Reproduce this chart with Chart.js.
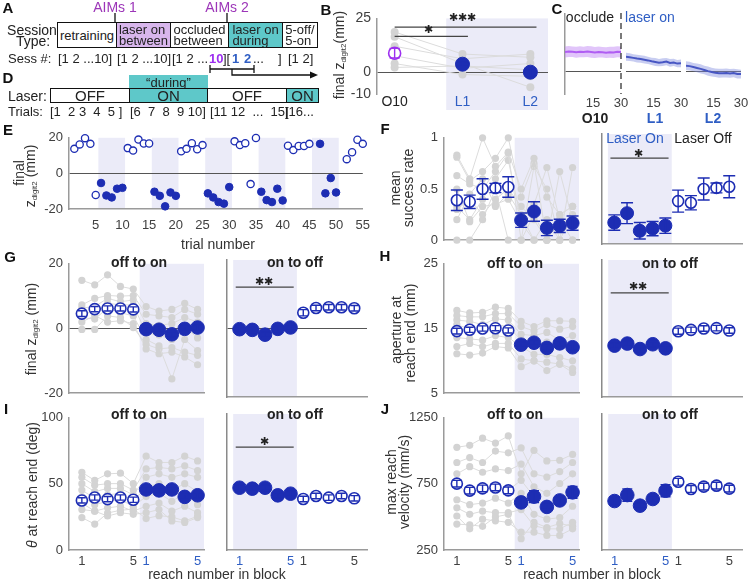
<!DOCTYPE html>
<html>
<head>
<meta charset="utf-8">
<script src="https://cdn.jsdelivr.net/npm/chart.js@4.4.1/dist/chart.umd.min.js"></script>
<style>
  body { margin: 0; background: #fff; }
  #fig { position: relative; width: 751px; height: 583px; overflow: hidden;
         font-family: 'Liberation Sans', Arial, Helvetica, sans-serif; color: #222; }
  #fig canvas { position: absolute; }
  .t { position: absolute; white-space: pre; transform: translate(-50%, -50%); line-height: 1; z-index: 2; }
  .l { position: absolute; white-space: pre; line-height: 1; z-index: 2; }
  .box { position: absolute; box-sizing: border-box; border: 1px solid #111; font-size: 13px; line-height: 11px;
         display: flex; flex-direction: column; justify-content: center; align-items: center; z-index: 2; }
  sub { font-size: 8px; vertical-align: -2px; }
</style>
</head>
<body>
<div id="fig">
  <!-- A: session schematic -->
  <svg style="position:absolute;left:0;top:0;z-index:1" width="751" height="583">
    <line x1="115" y1="13" x2="115" y2="22" stroke="#111" stroke-width="1.3"/>
    <line x1="227" y1="13" x2="227" y2="22" stroke="#111" stroke-width="1.3"/>
    <line x1="210" y1="69" x2="254" y2="69" stroke="#111" stroke-width="1.3"/>
    <line x1="210" y1="65" x2="210" y2="73" stroke="#111" stroke-width="1.3"/>
    <line x1="254" y1="65" x2="254" y2="73" stroke="#111" stroke-width="1.3"/>
    <polyline points="232,69 232,75 312,75" fill="none" stroke="#111" stroke-width="1.3"/>
    <polygon points="318,75 310,71.5 310,78.5" fill="#111"/>
  </svg>
</div>
<script>
const FONT = "'Liberation Sans', Arial, Helvetica, sans-serif";
const BLUE = '#1d2db3';
const TBLUE = '#2f5ec4';
const PURPLE = '#9d2ff0';
const GRAY = '#d3d3d3';
const BANDC = '#ebebf8';
const DARK = '#404040';

// E: one session, final z per trial
const eTrials = [1, 2, 3, 4, 5, 6, 7, 8, 9, 10, 11, 12, 13, 14, 15, 16, 17, 18, 19, 20,
  21, 22, 23, 24, 25, 26, 27, 28, 29, 30, 31, 32, 33, 34, 35, 36, 37, 38, 39, 40,
  41, 42, 43, 44, 45, 47, 48, 49, 50, 52, 53, 54, 55];
const eZ = [13.8, 16.3, 19.8, 16.6, -12.1, -5.4, -12.4, -13.5, -8.6, -8.1,
  14.2, 12.8, 19.0, 16.8, 16.8, -10.3, -12.6, -18.5, -10.7, -12.6,
  12.4, 13.8, 17.0, 13.6, 15.9, -11.2, -13.5, -16.1, -17.0, -7.7,
  18.0, 15.9, 17.0, -6.0, 19.9, -10.3, -15.0, -16.1, -8.6, -15.2,
  15.6, 13.1, 15.4, 15.4, 16.6, 16.6, -11.2, -2.6, -10.7, 8.0, 11.9, 18.9, 16.6];
const eLaser = [0, 0, 0, 0, 0, 1, 1, 1, 1, 1, 0, 0, 0, 0, 0, 1, 1, 1, 1, 1,
  0, 0, 0, 0, 0, 1, 1, 1, 1, 1, 0, 0, 0, 0, 0, 1, 1, 1, 1, 1,
  0, 0, 0, 0, 0, 1, 1, 1, 1, 0, 0, 0, 0];
const eBlocks = [[5.5, 10.5], [15.5, 20.5], [25.5, 30.5], [35.5, 40.5], [45.5, 50.5]];
const eXTicks = [5, 10, 15, 20, 25, 30, 35, 40, 45, 50, 55];
const eYTicks = [-20, 0, 20];

// B: per-animal final z, O10 / L1 / L2
const bSessions = ['O10', 'L1', 'L2'];
const bAnimals = [
  [18.7, 8.5, 7.0],
  [16.5, 4.1, -6.9],
  [12.1, 6.3, 8.5],
  [7.7, 1.9, 4.1],
  [4.1, -1.0, -1.8],
  [2.3, 3.0, 1.2]
];
const bMean = [8.9, 3.8, 0.1];
const bErr = [2.2, 1.0, 1.6];
const bYTicks = [-10, 0, 25];

// C: within-session traces
const cX = [0, 2, 4, 6, 8, 10, 12, 14, 16, 18, 20, 22, 24, 26, 28, 30];
const cO10 = [8.4, 8.6, 8.5, 8.3, 8.5, 8.4, 8.6, 8.4, 8.2, 8.4, 8.3, 8.1, 8.3, 8.2, 8.5, 8.4];
const cO10Sem = [2.4, 2.4, 2.3, 2.4, 2.4, 2.3, 2.4, 2.5, 2.4, 2.4, 2.3, 2.4, 2.4, 2.5, 2.4, 2.4];
const cL1 = [6.3, 6.1, 5.8, 5.5, 5.3, 5.0, 4.7, 4.3, 4.0, 3.7, 3.9, 4.2, 3.6, 3.8, 3.3, 3.4];
const cL1Sem = [1.7, 1.7, 1.6, 1.7, 1.6, 1.7, 1.6, 1.6, 1.7, 1.6, 1.7, 1.6, 1.7, 1.6, 1.6, 1.7];
const cL2 = [2.4, 2.2, 1.8, 1.4, 1.0, 0.5, 0.0, -0.4, -0.7, -0.9, -0.9, -0.8, -1.0, -0.8, -1.2, -1.3];
const cL2Sem = [1.9, 1.9, 1.8, 1.9, 2.0, 1.9, 2.0, 1.9, 1.9, 2.0, 1.9, 2.0, 1.9, 1.9, 2.0, 1.9];
const cXTicks = [15, 30];

// F-J: reach number in block
const reachA = [1, 2, 3, 4, 5];
const reachB = [6, 7, 8, 9, 10];
const reachAll = [1, 2, 3, 4, 5, 6, 7, 8, 9, 10];
const blockTicks = [1, 5, 6, 10];
const blockLabels = ['1', '5', '1', '5'];

const fOff = [0.39, 0.375, 0.50, 0.51, 0.52];
const fOffErr = [0.10, 0.065, 0.10, 0.045, 0.10];
const fOn = [0.195, 0.28, 0.12, 0.14, 0.167];
const fOnErr = [0.07, 0.095, 0.075, 0.065, 0.07];
const fAnimals = [
  [0.83, 0.60, 1.00, 0.72, 0.86, 0.50, 0.80, 0.42, 0.25, 0.33],
  [0.81, 0.58, 0.67, 0.80, 1.00, 0.42, 0.75, 0.00, 0.67, 0.20],
  [0.63, 0.55, 0.50, 0.67, 0.85, 0.00, 0.72, 0.50, 0.00, 0.71],
  [0.33, 0.20, 0.40, 0.60, 0.78, 0.20, 0.35, 0.71, 0.20, 0.00],
  [0.30, 0.40, 0.25, 0.40, 0.50, 0.33, 0.20, 0.00, 0.25, 0.33],
  [0.50, 0.18, 0.33, 0.35, 0.40, 0.17, 0.00, 0.20, 0.00, 0.25],
  [0.00, 0.00, 0.20, 0.50, 0.00, 0.00, 0.25, 0.00, 0.20, 0.17],
  [0.20, 0.45, 0.60, 0.33, 0.45, 0.25, 0.00, 0.00, 0.00, 0.00]
];
const fYTicks = [0, 0.5, 1];
const fYLabels = ['0', '0.5', '1'];

const gOff = [4.6, 6.0, 6.2, 6.2, 5.9];
const gOffErr = [0.9, 0.8, 0.8, 0.8, 0.8];
const gOn = [-0.2, -0.4, -1.8, -0.1, 0.3];
const gOnErr = [0.8, 0.8, 0.8, 0.8, 0.8];
const gAnimals = [
  [14.9, 13.5, 16.6, 13.0, 12.2, 6.8, 5.4, 5.9, 7.8, 5.9],
  [7.3, 9.3, 10.2, 10.0, 10.2, 4.4, 3.9, 3.4, 5.9, 4.4],
  [6.3, 6.8, 9.3, 8.3, 8.8, 1.5, 1.0, 1.5, 3.4, 2.0],
  [4.9, 4.9, 7.8, 7.3, 7.3, -1.5, -2.0, -3.4, 0.5, -2.9],
  [3.4, 2.9, 6.3, 4.9, 3.9, -3.4, -5.4, -15.6, -3.4, -6.8],
  [-0.3, -0.3, 3.9, 3.4, 0.3, -4.9, -6.3, -5.9, -7.3, -8.3],
  [2.0, 4.0, 2.0, 2.4, 1.5, -6.3, -7.8, -7.3, -8.8, -11.2]
];
const gYTicks = [-20, 0, 20];

const hOff = [14.6, 14.8, 15.0, 15.05, 14.7];
const hOffErr = [0.45, 0.4, 0.4, 0.4, 0.4];
const hOn = [12.5, 12.8, 12.0, 12.7, 12.1];
const hOnErr = [0.4, 0.4, 0.4, 0.4, 0.4];
const hAnimals = [
  [17.8, 17.4, 17.5, 18.3, 18.1, 16.1, 15.3, 16.2, 16.2, 16.1],
  [17.0, 16.8, 16.8, 17.3, 17.3, 15.3, 14.6, 15.6, 14.9, 15.3],
  [16.3, 16.1, 15.6, 16.5, 16.3, 14.1, 13.9, 14.4, 13.2, 13.9],
  [15.6, 14.9, 14.6, 15.6, 15.3, 13.2, 12.4, 12.9, 12.2, 12.0],
  [13.6, 13.4, 13.2, 13.9, 13.6, 12.2, 11.0, 11.0, 10.5, 10.0],
  [12.2, 12.7, 12.2, 12.7, 12.7, 10.3, 10.0, 9.8, 9.5, 8.8],
  [11.1, 10.9, 11.2, 12.2, 12.0, 9.1, 10.0, 8.5, 9.5, 8.2]
];
const hYTicks = [5, 15, 25];

const iOff = [37.5, 39.7, 38.5, 39.7, 38.0];
const iOffErr = [2, 2, 2, 2, 2];
const iOn = [45.8, 45.1, 45.8, 40.2, 41.4];
const iOnErr = [2, 2, 2, 2, 2];
const iAnimals = [
  [58.8, 52.6, 57.6, 58.1, 50.2, 71.0, 66.2, 66.2, 71.0, 67.4],
  [55.0, 49.0, 50.2, 50.2, 45.3, 61.3, 62.5, 61.3, 63.7, 60.0],
  [50.2, 44.1, 46.6, 46.6, 41.7, 55.0, 57.6, 55.0, 57.6, 55.0],
  [45.3, 39.2, 41.7, 42.9, 36.8, 47.8, 50.2, 45.3, 50.2, 44.1],
  [40.4, 34.3, 36.8, 38.0, 33.1, 40.4, 42.9, 36.8, 42.9, 34.3],
  [35.5, 29.4, 31.9, 33.1, 29.4, 33.1, 35.5, 29.4, 33.1, 28.2],
  [30.6, 29.4, 25.7, 28.2, 27.0, 28.2, 30.6, 22.0, 20.8, 24.5],
  [24.5, 19.6, 28.0, 30.0, 31.0, 23.8, 26.0, 25.0, 22.0, 25.5]
];
const iYTicks = [0, 50, 100];

const jOff = [752, 699, 716, 723, 701];
const jOffErr = [25, 25, 25, 25, 25];
const jOn = [610, 654, 576, 625, 686];
const jOnErr = [32, 45, 20, 25, 45];
const jAnimals = [
  [1027, 1042, 1096, 1059, 1113, 826, 1003, 924, 929, 973],
  [912, 949, 912, 998, 985, 1022, 826, 802, 843, 912],
  [826, 880, 838, 863, 851, 900, 728, 679, 753, 826],
  [740, 679, 716, 716, 703, 777, 654, 556, 630, 703],
  [630, 593, 605, 642, 605, 679, 520, 483, 495, 581],
  [569, 520, 544, 532, 532, 556, 434, 410, 410, 459],
  [507, 410, 483, 471, 459, 385, 385, 360, 360, 410],
  [446, 440, 429, 500, 520, 336, 460, 420, 450, 430]
];
const jYTicks = [250, 750, 1250];

const fig = document.getElementById('fig');
Chart.defaults.font.family = FONT;

// shaded laser-on blocks behind everything
const bandPlugin = {
  id: 'bands',
  beforeDraw(chart, args, opts) {
    if (!opts.spans) return;
    const ctx = chart.ctx, area = chart.chartArea, xs = chart.scales.x;
    const down = opts.down || 0;
    ctx.save();
    ctx.fillStyle = BANDC;
    opts.spans.forEach(function (s) {
      const x0 = xs.getPixelForValue(s[0]), x1 = xs.getPixelForValue(s[1]);
      ctx.fillRect(x0, area.top, x1 - x0, area.bottom - area.top + down);
    });
    ctx.restore();
  }
};

// error bars for datasets that carry an errs array
const errPlugin = {
  id: 'errbars',
  afterDatasetsDraw(chart) {
    const ctx = chart.ctx, ys = chart.scales.y;
    chart.data.datasets.forEach(function (ds, i) {
      if (!ds.errs) return;
      const els = chart.getDatasetMeta(i).data;
      ctx.save();
      ctx.strokeStyle = ds.borderColor;
      ctx.lineWidth = 1.4;
      ds.data.forEach(function (d, k) {
        const x = els[k].x;
        const y0 = ys.getPixelForValue(d.y - ds.errs[k]);
        const y1 = ys.getPixelForValue(d.y + ds.errs[k]);
        const w = ds.cap || 5;
        ctx.beginPath();
        ctx.moveTo(x, y0); ctx.lineTo(x, y1);
        ctx.moveTo(x - w, y0); ctx.lineTo(x + w, y0);
        ctx.moveTo(x - w, y1); ctx.lineTo(x + w, y1);
        ctx.stroke();
      });
      ctx.restore();
    });
  }
};

// dashed divider on the right edge of the occluded trace
const vlinePlugin = {
  id: 'vline',
  afterDraw(chart, args, opts) {
    if (opts.x == null) return;
    const ctx = chart.ctx, area = chart.chartArea;
    const x = chart.scales.x.getPixelForValue(opts.x);
    ctx.save();
    ctx.strokeStyle = '#222';
    ctx.lineWidth = 1.2;
    ctx.setLineDash([6, 4]);
    ctx.beginPath();
    ctx.moveTo(x, area.top - 1);
    ctx.lineTo(x, area.bottom);
    ctx.stroke();
    ctx.restore();
  }
};

function axis(a, dir, size) {
  return {
    type: 'linear',
    min: a.min,
    max: a.max,
    afterFit: function (s) { if (dir === 'x') s.height = size; else s.width = size; },
    afterBuildTicks: function (s) { s.ticks = (a.ticks || []).map(function (v) { return { value: v }; }); },
    ticks: {
      display: !!a.labels,
      autoSkip: false,
      maxRotation: 0,
      padding: a.pad == null ? 6 : a.pad,
      font: { family: FONT, size: a.size || 13 },
      color: function (c) { return a.colors ? a.colors[c.index] : DARK; },
      callback: function (v, i) { return a.labels ? a.labels[i] : ''; }
    },
    grid: {
      display: !!a.zero,
      drawTicks: false,
      lineWidth: 1,
      color: function (c) { return c.tick && c.tick.value === 0 ? '#555' : 'rgba(0,0,0,0)'; }
    },
    border: { display: a.border !== false, color: a.bcolor || '#9a9a9a', width: 1.5 }
  };
}

// area = [left, top, right, bottom] of the plot box on the page
function addChart(area, cfg) {
  const yw = cfg.yw == null ? 30 : cfg.yw;
  const xh = cfg.xh == null ? 10 : cfg.xh;
  const pt = 10, pr = 12;
  const c = document.createElement('canvas');
  c.width = area[2] - area[0] + yw + 2 + pr;
  c.height = area[3] - area[1] + pt + xh;
  c.style.left = (area[0] - yw - 2) + 'px';
  c.style.top = (area[1] - pt) + 'px';
  fig.appendChild(c);
  return new Chart(c, {
    type: 'scatter',
    data: { datasets: cfg.datasets },
    options: {
      responsive: false,
      animation: false,
      events: [],
      layout: { padding: { left: 2, top: pt, right: pr, bottom: 0 } },
      plugins: {
        legend: { display: false },
        tooltip: { enabled: false },
        bands: cfg.bands || {},
        vline: cfg.vline || {}
      },
      scales: { x: axis(cfg.x, 'x', xh), y: axis(cfg.y, 'y', yw) }
    },
    plugins: [bandPlugin, errPlugin, vlinePlugin]
  });
}

function pts(xs, ys) {
  return ys.map(function (y, k) { return { x: xs[k], y: y }; });
}

// grey per-animal lines sit underneath (higher order is drawn first)
function grayLines(xs, rows, r) {
  return rows.map(function (row) {
    return {
      data: pts(xs, row), order: 10, showLine: true, borderColor: '#dcdcdc', borderWidth: 1,
      pointRadius: r || 3.6, pointBackgroundColor: GRAY, pointBorderWidth: 0, clip: false
    };
  });
}

function openDots(xs, ys, errs, r, cap, color) {
  return {
    data: pts(xs, ys), order: 1, errs: errs, cap: cap, showLine: false, clip: false,
    borderColor: color || BLUE, pointBorderColor: color || BLUE, pointBackgroundColor: '#fff',
    pointRadius: r, pointBorderWidth: 1.6
  };
}

function filledDots(xs, ys, errs, r, cap) {
  return {
    data: pts(xs, ys), order: 1, errs: errs, cap: cap, showLine: false, clip: false,
    borderColor: BLUE, pointBorderColor: BLUE, pointBackgroundColor: BLUE,
    pointRadius: r, pointBorderWidth: 1
  };
}

function sigLine(x0, x1, y) {
  return { data: [{ x: x0, y: y }, { x: x1, y: y }], order: 2, showLine: true, borderColor: '#444', borderWidth: 1.2, pointRadius: 0 };
}

function traceSets(mean, sem, line, fillc) {
  const lo = mean.map(function (m, k) { return m - sem[k]; });
  const hi = mean.map(function (m, k) { return m + sem[k]; });
  return [
    { data: pts(cX, lo), showLine: true, borderWidth: 0, pointRadius: 0, borderColor: 'rgba(0,0,0,0)' },
    { data: pts(cX, hi), showLine: true, borderWidth: 0, pointRadius: 0, borderColor: 'rgba(0,0,0,0)', fill: '-1', backgroundColor: fillc },
    { data: pts(cX, mean), showLine: true, borderWidth: 2, pointRadius: 0, borderColor: line }
  ];
}

// ---- B ----
addChart([377, 14, 548, 94], {
  x: { min: -0.26, max: 2.26, ticks: [0, 1, 2], labels: bSessions, colors: ['#222', TBLUE, TBLUE], size: 14, pad: 0, border: false },
  xh: 16,
  y: { min: -10, max: 25, ticks: bYTicks, labels: bYTicks.map(String), zero: true, size: 14 },
  bands: { spans: [[0.76, 2.26]], down: 20 },
  datasets: grayLines([0, 1, 2], bAnimals, 4).concat([
    openDots([0], [bMean[0]], [bErr[0]], 6, 5, PURPLE),
    filledDots([1, 2], [bMean[1], bMean[2]], [bErr[1], bErr[2]], 7, 6),
    sigLine(0, 2.09, 21),
    sigLine(0, 1.08, 16.7)
  ])
});

// ---- C ----
addChart([565, 14, 621, 94], {
  x: { min: 0, max: 30, ticks: cXTicks, labels: cXTicks.map(String), pad: 2, border: false },
  xh: 16, yw: 4,
  y: { min: -10, max: 25, ticks: [0], zero: true },
  vline: { x: 30 },
  datasets: traceSets(cO10, cO10Sem, PURPLE, 'rgba(196,140,246,0.5)')
});
addChart([626, 14, 681, 94], {
  x: { min: 0, max: 30, ticks: cXTicks, labels: cXTicks.map(String), pad: 2, border: false },
  xh: 16, yw: 4,
  y: { min: -10, max: 25, ticks: [0], zero: true, border: false },
  datasets: traceSets(cL1, cL1Sem, '#2233b0', 'rgba(125,135,222,0.42)')
});
addChart([686, 14, 741, 94], {
  x: { min: 0, max: 30, ticks: cXTicks, labels: cXTicks.map(String), pad: 2, border: false },
  xh: 16, yw: 4,
  y: { min: -10, max: 25, ticks: [0], zero: true, border: false },
  datasets: traceSets(cL2, cL2Sem, '#2233b0', 'rgba(125,135,222,0.42)')
});

// ---- E ----
const eOpen = [], eFill = [];
eTrials.forEach(function (t, k) { (eLaser[k] ? eFill : eOpen).push({ x: t, y: eZ[k] }); });
addChart([69, 134, 367, 209], {
  x: { min: 0, max: 55, ticks: eXTicks, labels: eXTicks.map(String), pad: 9 },
  xh: 26,
  y: { min: -20, max: 20, ticks: eYTicks, labels: eYTicks.map(String), zero: true },
  bands: { spans: eBlocks },
  datasets: [
    { data: eOpen, showLine: false, clip: false, pointRadius: 3.6, pointBorderWidth: 1.3, pointBorderColor: BLUE, pointBackgroundColor: '#fff' },
    { data: eFill, showLine: false, clip: false, pointRadius: 3.8, pointBorderWidth: 1, pointBorderColor: BLUE, pointBackgroundColor: BLUE }
  ]
});

// ---- F-J, two panels each ----
function pairPanels(top, bottom, leftX, yAx, animals, off, offErr, on, onErr, opt) {
  const xl = { min: 0, max: 10.5, ticks: opt.xlabels ? blockTicks : [], labels: opt.xlabels ? blockLabels : null, colors: [DARK, DARK, TBLUE, TBLUE], pad: 4 };
  const xr = { min: 0, max: 11, ticks: opt.xlabels ? blockTicks : [], labels: opt.xlabels ? blockLabels : null, colors: [TBLUE, TBLUE, DARK, DARK], pad: 4 };
  const yr = { min: yAx.min, max: yAx.max, ticks: yAx.zero ? [0] : [], zero: yAx.zero, bcolor: '#8a8a8a' };
  const xh = opt.xlabels ? 20 : 10;
  addChart([leftX, top, leftX + 135, bottom], {
    x: xl, xh: xh, y: yAx, yw: opt.yw,
    bands: { spans: [[5.5, 10.5]] },
    datasets: grayLines(reachAll, animals).concat([
      openDots(reachA, off, offErr, opt.ro, opt.cap),
      filledDots(reachB, on, onErr, opt.rf, opt.cap)
    ])
  });
  const right = [
    filledDots(reachA, on, onErr, opt.rf, opt.cap),
    openDots(reachB, off, offErr, opt.ro, opt.cap)
  ];
  if (opt.sig) right.push(sigLine(0.7, 5.25, opt.sig));
  addChart([leftX + 156, top, leftX + 298, bottom], {
    x: xr, xh: xh, yw: 4, y: yr,
    bands: { spans: [[0.5, 5.5]] },
    datasets: right
  });
}

pairPanels(134, 244, 444, { min: 0, max: 1, ticks: fYTicks, labels: fYLabels },
  fAnimals, fOff, fOffErr, fOn, fOnErr, { ro: 5.5, rf: 6.5, cap: 6, sig: 0.78 });
pairPanels(260, 397, 69, { min: -20, max: 20, ticks: gYTicks, labels: gYTicks.map(String), zero: true },
  gAnimals, gOff, gOffErr, gOn, gOnErr, { ro: 5.5, rf: 6.8, cap: 4, sig: 12.1 });
pairPanels(260, 397, 444, { min: 5, max: 25, ticks: hYTicks, labels: hYTicks.map(String) },
  hAnimals, hOff, hOffErr, hOn, hOnErr, { ro: 5.5, rf: 6.8, cap: 4, sig: 20.2 });
pairPanels(414, 550, 69, { min: 0, max: 100, ticks: iYTicks, labels: iYTicks.map(String) },
  iAnimals, iOff, iOffErr, iOn, iOnErr, { ro: 5.5, rf: 6.8, cap: 4, sig: 75.7, xlabels: true });
pairPanels(414, 550, 444, { min: 250, max: 1250, ticks: jYTicks, labels: jYTicks.map(String) },
  jAnimals, jOff, jOffErr, jOn, jOnErr, { ro: 5.5, rf: 6.8, cap: 5, xlabels: true, yw: 40 });

// ---- text ----
function txt(html, x, y, style, cls) {
  const d = document.createElement('div');
  d.className = cls || 't';
  d.innerHTML = html;
  d.style.left = x + 'px';
  d.style.top = y + 'px';
  if (style) d.style.cssText += style;
  fig.appendChild(d);
  return d;
}
function vtxt(html, x, y, size) {
  return txt(html, x, y, 'font-size:' + (size || 14) + 'px;color:#333;transform:translate(-50%,-50%) rotate(-90deg);');
}
function box(x0, y0, x1, y1, html, bg, style) {
  const d = document.createElement('div');
  d.className = 'box';
  d.innerHTML = html;
  d.style.cssText += 'left:' + x0 + 'px;top:' + y0 + 'px;width:' + (x1 - x0 + 1) + 'px;height:' + (y1 - y0 + 1) + 'px;background:' + (bg || '#fff') + ';' + (style || '');
  fig.appendChild(d);
}

// panel letters
[['A', 8, 7], ['B', 326, 9], ['C', 557, 8], ['D', 8, 77], ['E', 8, 129], ['F', 385, 128],
 ['G', 10, 256], ['H', 385, 255], ['I', 6, 408], ['J', 385, 408]].forEach(function (p) {
  txt(p[0], p[1], p[2], 'font-size:15px;font-weight:bold;color:#111;');
});

// A
const AIMS = '#9c35b8';
txt('AIMs 1', 115, 7, 'font-size:14px;color:' + AIMS + ';');
txt('AIMs 2', 227, 7, 'font-size:14px;color:' + AIMS + ';');
txt('Session', 32, 30, 'font-size:14px;');
txt('Type:', 33, 41, 'font-size:14px;');
box(57, 22, 116, 47, 'retraining');
box(116, 22, 170, 47, 'laser on<br>between', '#d8b6ec');
box(170, 22, 228, 47, 'occluded<br>between');
box(228, 22, 282, 47, 'laser on<br>during', '#5ec8c9');
box(282, 22, 317, 47, '5-off/<br>5-on');
[['Sess #:', 8], ['[1 2 ...10]', 58], ['[1 2 ...10]', 117], ['[1 2 ...', 172], ['][', 223],
 ['...', 253], [']', 278], ['[1 2]', 288]].forEach(function (p) {
  txt(p[0], p[1], 52, 'font-size:13px;', 'l');
});
txt('10', 209, 52, 'font-size:13px;font-weight:bold;color:' + PURPLE + ';', 'l');
txt('1', 232, 52, 'font-size:13px;font-weight:bold;color:' + TBLUE + ';', 'l');
txt('2', 244, 52, 'font-size:13px;font-weight:bold;color:' + TBLUE + ';', 'l');

// D
box(129, 75, 207, 88, '\u201Cduring\u201D', '#5ec8c9', 'border:none;');
txt('Laser:', 8, 89, 'font-size:14px;', 'l');
box(50, 88, 129, 102, 'OFF', '#fff', 'font-size:15px;');
box(129, 88, 207, 102, 'ON', '#5ec8c9', 'font-size:15px;');
box(207, 88, 286, 102, 'OFF', '#fff', 'font-size:15px;');
box(286, 88, 318, 102, 'ON', '#5ec8c9', 'font-size:15px;');
[['Trials:', 8], ['[1  2 3  4  5 ]', 50], ['[6  7  8  9 10]', 130], ['[11 12  ...  15]', 210], ['[16...', 285]].forEach(function (p) {
  txt(p[0], p[1], 105, 'font-size:13px;', 'l');
});

// B / C labels
vtxt('final z<sub>digit2</sub>(mm)', 340, 55);
txt('\u2731\u2731\u2731', 462, 17, 'font-size:11px;color:#222;');
txt('\u2731', 428, 29, 'font-size:11px;color:#222;');
txt('occlude', 590, 17, 'font-size:14px;');
txt('laser on', 650, 17, 'font-size:14px;color:' + TBLUE + ';');
txt('O10', 595, 118, 'font-size:14px;font-weight:bold;');
txt('L1', 655, 118, 'font-size:14px;font-weight:bold;color:' + TBLUE + ';');
txt('L2', 713, 118, 'font-size:14px;font-weight:bold;color:' + TBLUE + ';');

// E
vtxt('final', 19, 173);
vtxt('z<sub>digit2</sub> (mm)', 31, 176);
txt('trial number', 218, 244, 'font-size:14px;color:#333;');

// F
vtxt('mean', 395, 188);
vtxt('success rate', 408, 188);
txt('Laser On', 635, 138, 'font-size:14px;color:' + TBLUE + ';');
txt('Laser Off', 703, 138, 'font-size:14px;');
txt('\u2731', 638, 153, 'font-size:11px;color:#222;');

// G-J
vtxt('final z<sub>digit2</sub> (mm)', 32, 329);
vtxt('aperture at', 396, 330);
vtxt('reach end (mm)', 410, 333);
vtxt('<i>\u03B8</i> at reach end (deg)', 32, 485);
vtxt('max reach', 391, 482);
vtxt('velocity (mm/s)', 404, 482);
[[139, 262], [515, 263], [139, 414], [515, 414]].forEach(function (p) {
  txt('off to on', p[0], p[1], 'font-size:14px;font-weight:bold;');
});
[[295, 262], [670, 263], [295, 414], [670, 414]].forEach(function (p) {
  txt('on to off', p[0], p[1], 'font-size:14px;font-weight:bold;');
});
txt('\u2731\u2731', 264, 281, 'font-size:11px;color:#222;');
txt('\u2731\u2731', 638, 286, 'font-size:11px;color:#222;');
txt('\u2731', 264, 441, 'font-size:11px;color:#222;');
txt('reach number in block', 217, 574, 'font-size:14px;color:#333;');
txt('reach number in block', 592, 574, 'font-size:14px;color:#333;');
</script>
</body>
</html>
